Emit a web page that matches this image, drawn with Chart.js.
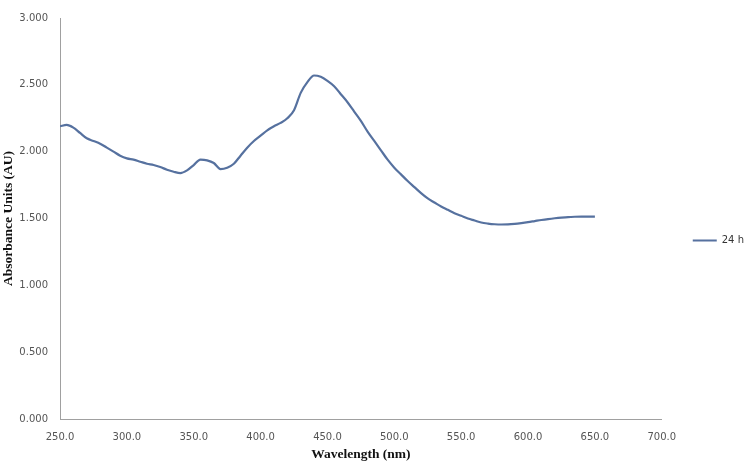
<!DOCTYPE html>
<html lang="en">
<head>
    <meta charset="UTF-8">
    <title>Absorbance 24 h</title>
    <script src="https://cdn.jsdelivr.net/npm/chart.js@4"></script>
    <style>
        html, body { margin: 0; padding: 0; background: #fff; }
        #box { width: 750px; height: 463px; }
    </style>
</head>
<body>
    <div id="box"><canvas id="canvas_grafico"></canvas></div>

    <script>
        // wavelength (nm) and absorbance
        const comprimentos = [250, 255, 260, 265, 270, 275, 280, 285, 290, 295,
            300, 305, 310, 315, 320, 325, 330, 335, 340, 345,
            350, 355, 360, 365, 370, 375, 380, 385, 390, 395,
            400, 405, 410, 415, 420, 425, 430, 435, 440, 445,
            450, 455, 460, 465, 470, 475, 480, 485, 490, 495,
            500, 505, 510, 515, 520, 525, 530, 535, 540, 545,
            550, 555, 560, 565, 570, 575, 580, 585, 590, 595,
            600, 605, 610, 615, 620, 625, 630, 635, 640, 645, 650];
        const absorb24h = [2.19, 2.20, 2.18, 2.14, 2.10, 2.08, 2.06, 2.03, 2.00, 1.97,
            1.95, 1.94, 1.925, 1.91, 1.90, 1.885, 1.865, 1.85, 1.84, 1.86,
            1.90, 1.94, 1.935, 1.915, 1.87, 1.88, 1.91, 1.97, 2.03, 2.08,
            2.12, 2.16, 2.19, 2.215, 2.25, 2.31, 2.44, 2.52, 2.57, 2.56,
            2.53, 2.49, 2.43, 2.37, 2.30, 2.23, 2.15, 2.08, 2.01, 1.94,
            1.88, 1.83, 1.78, 1.735, 1.69, 1.65, 1.62, 1.59, 1.565, 1.54,
            1.52, 1.50, 1.485, 1.47, 1.462, 1.457, 1.455, 1.456, 1.46, 1.466,
            1.473, 1.481, 1.489, 1.496, 1.502, 1.507, 1.511, 1.513, 1.514, 1.514, 1.514];
        const nomeSerie = '24 h';

        const pontos = comprimentos.map((x, i) => ({ x: x, y: absorb24h[i] }));
        const fonteTicks = { family: 'DejaVu Sans', size: 10 };
        const fonteTitulo = { family: 'Liberation Serif', size: 13.5, weight: 'bold' };

        const ctx = document.getElementById('canvas_grafico').getContext('2d');
        const myChart = new Chart(ctx, {
            type: 'line',
            data: {
                datasets: [{
                    label: nomeSerie,
                    data: pontos,
                    borderColor: '#56719f',
                    backgroundColor: '#56719f',
                    borderWidth: 2.2,
                    pointRadius: 0,
                    cubicInterpolationMode: 'monotone',
                    fill: false
                }]
            },
            options: {
                responsive: true,
                maintainAspectRatio: false,
                animation: false,
                layout: { padding: { top: 12, right: -4, left: 0, bottom: 0 } },
                plugins: {
                    legend: {
                        position: 'right',
                        title: { display: true, text: ' ', font: { size: 1 }, padding: 2.4 },
                        labels: {
                            usePointStyle: true,
                            pointStyle: 'line',
                            pointStyleWidth: 24,
                            color: '#333',
                            font: { family: 'DejaVu Sans', size: 10 },
                            padding: 31
                        }
                    },
                    tooltip: { enabled: false }
                },
                scales: {
                    x: {
                        type: 'linear',
                        min: 250,
                        max: 700,
                        afterFit: s => { s.height = 44; },
                        grid: { display: false, drawTicks: false },
                        border: { display: true, color: '#a0a0a0', width: 1 },
                        ticks: {
                            stepSize: 50,
                            color: '#555',
                            font: fonteTicks,
                            padding: 12,
                            maxRotation: 0,
                            callback: v => v.toFixed(1)
                        },
                        title: {
                            display: true,
                            text: 'Wavelength (nm)',
                            color: '#111',
                            font: fonteTitulo,
                            padding: { top: 4, bottom: 0 }
                        }
                    },
                    y: {
                        min: 0,
                        max: 3,
                        afterFit: s => { s.width = 60; },
                        grid: { display: false, drawTicks: false },
                        border: { display: true, color: '#a0a0a0', width: 1 },
                        ticks: {
                            stepSize: 0.5,
                            color: '#555',
                            font: fonteTicks,
                            padding: 12,
                            callback: v => v.toFixed(3)
                        },
                        title: {
                            display: true,
                            text: 'Absorbance Units (AU)',
                            color: '#111',
                            font: fonteTitulo,
                            padding: { top: 0, bottom: 3 }
                        }
                    }
                }
            }
        });
    </script>
</body>
</html>
